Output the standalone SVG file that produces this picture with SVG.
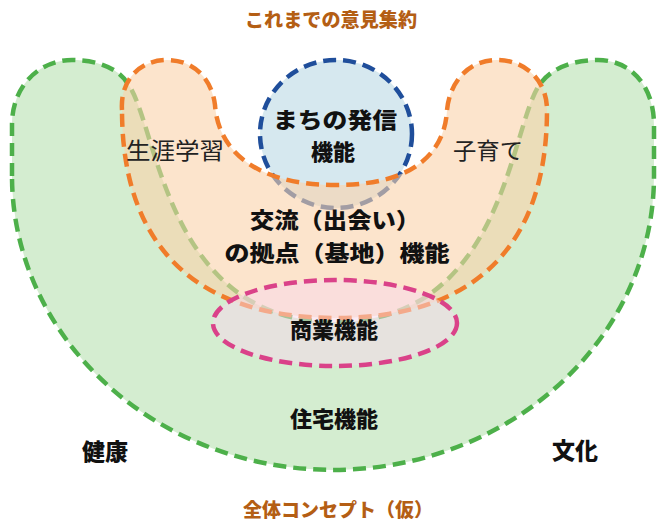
<svg xmlns="http://www.w3.org/2000/svg" width="658" height="525" viewBox="0 0 658 525">
<style>
.lbl{font-family:"Noto Sans CJK JP","Noto Sans CJK SC",sans-serif;font-weight:900;fill:#111;}
.reg{font-family:"Noto Sans CJK JP","Noto Sans CJK SC",sans-serif;font-weight:400;fill:#222;}
.ttl{font-family:"Noto Sans CJK JP","Noto Sans CJK SC",sans-serif;font-weight:900;fill:#B45E14;}
.dash{stroke-width:4.5;stroke-dasharray:13 7;}
</style>
<rect width="658" height="525" fill="#fff"/>
<g id="title">
<text class="ttl" x="331" y="27" font-size="19" text-anchor="middle" textLength="172" lengthAdjust="spacingAndGlyphs">これまでの意見集約</text>
</g>
<g id="housing">
<path class="dash" fill="#D4EDD0" stroke="#4DB04A" d="M12,176 L12,125 C12,85 40,60 72,60 C100,60 120,70 128,84 C158,125 165,322 335,322 C505,322 510,125 540,84 C550,70 570,60 598,60 C630,60 654,85 654,125 L654,176 A321,294 0 0 1 12,176 Z"/>
</g>
<g id="info">
<ellipse class="dash" cx="336" cy="134" rx="76" ry="74" fill="#D6E8EF" stroke="#1F4E9B"/>
</g>
<g id="exchange">
<path class="dash" fill="rgb(250,210,170)" fill-opacity="0.6" stroke="#F07C2A" d="M122,110 C120,80 140,60 167,60 C195,60 212,80 215,105 C218,150 255,185 336,185 C417,185 445,150 447,110 C450,80 470,60 497,60 C525,60 547,80 547,110 C547,250 470,318 336,318 C200,318 122,250 122,110 Z"/>
</g>
<g id="commerce">
<ellipse class="dash" cx="335" cy="323" rx="122" ry="43" fill="rgb(248,215,236)" fill-opacity="0.5" stroke="#DA4289"/>
</g>
<g id="labels">
<text class="lbl" x="335" y="128" font-size="22" text-anchor="middle" textLength="124" lengthAdjust="spacingAndGlyphs">まちの発信</text>
<text class="lbl" x="333" y="160" font-size="22" text-anchor="middle">機能</text>
<text class="reg" x="126" y="159" font-size="23" textLength="98" lengthAdjust="spacingAndGlyphs">生涯学習</text>
<text class="reg" x="453" y="159" font-size="23" textLength="70" lengthAdjust="spacingAndGlyphs">子育て</text>
<text class="lbl" x="335" y="228" font-size="22" text-anchor="middle" textLength="170" lengthAdjust="spacingAndGlyphs">交流（出会い）</text>
<text class="lbl" x="337" y="261" font-size="22" text-anchor="middle" textLength="225" lengthAdjust="spacingAndGlyphs">の拠点（基地）機能</text>
<text class="lbl" x="334" y="338" font-size="22" text-anchor="middle">商業機能</text>
<text class="lbl" x="334" y="427" font-size="22" text-anchor="middle">住宅機能</text>
<text class="lbl" x="82" y="460" font-size="23">健康</text>
<text class="lbl" x="552" y="459" font-size="23">文化</text>
</g>
<g id="footer">
<text class="ttl" x="338" y="517" font-size="19" text-anchor="middle" textLength="190" lengthAdjust="spacingAndGlyphs">全体コンセプト（仮）</text>
</g>
<g id="connectors"/>
</svg>
